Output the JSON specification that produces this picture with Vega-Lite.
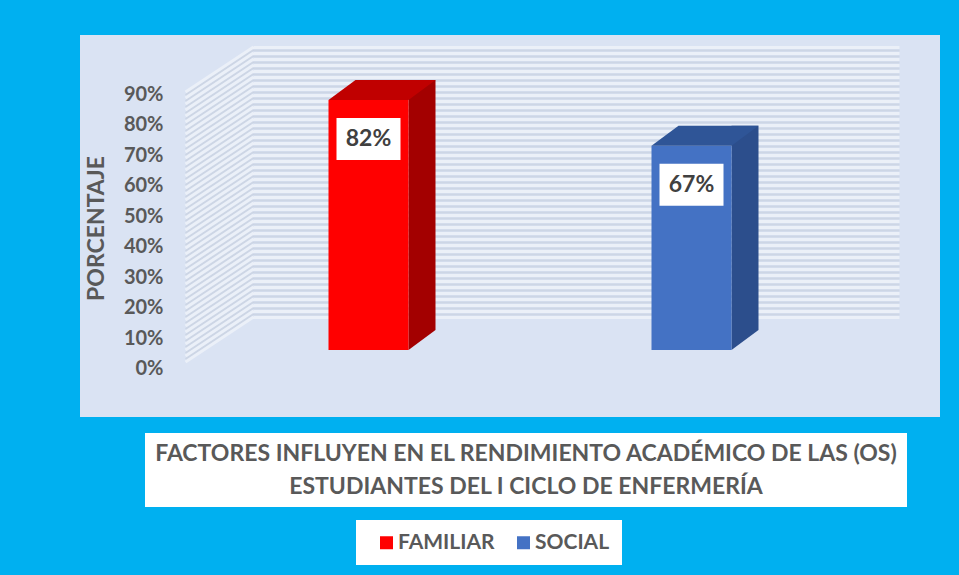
{
  "$schema": "https://vega.github.io/schema/vega-lite/v6.json",
  "background": "#00B0F0",
  "padding": {"left": 80, "top": 35, "right": 19, "bottom": 11},
  "bounds": "flush",
  "spacing": 16,
  "config": {"font": "Lato", "view": {"stroke": null}},
  "datasets": {
    "bars": [
      {"cat": "FAMILIAR", "pct": 0.82},
      {"cat": "SOCIAL", "pct": 0.67}
    ]
  },
  "vconcat": [
    {
      "width": 860,
      "height": 382,
      "view": {"fill": "#DAE3F3", "stroke": null},
      "resolve": {"axis": {"y": "independent"}},
      "layer": [
        {
          "data": {"values": [{"t": 1}]},
          "mark": {"type": "point", "shape": "M-229 9L-161 -36M-229 3L-161 -42M-229 -3L-161 -48M-229 -9L-161 -54M-229 -15L-161 -60M-229 -21L-161 -66M-229 -27L-161 -72M-229 -33L-161 -78M-229 -39L-161 -84M-229 -45L-161 -90M-229 -51L-161 -96M-229 -57L-161 -102M-229 -63L-161 -108M-229 -69L-161 -114M-229 -75L-161 -120M-229 -81L-161 -126M-229 -87L-161 -132M-229 -93L-161 -138M-229 -99L-161 -144M-229 -105L-161 -150M-229 -111L-161 -156M-229 -117L-161 -162M-229 -123L-161 -168M-229 -129L-161 -174M-229 -135L-161 -180M-229 -141L-161 -186M-229 -147L-161 -192M-229 -153L-161 -198M-229 -159L-161 -204M-229 -165L-161 -210M-229 -171L-161 -216M-229 -177L-161 -222M-229 -183L-161 -228M-229 -189L-161 -234M-229 -195L-161 -240M-229 -201L-161 -246M-229 -207L-161 -252M-229 -213L-161 -258M-229 -219L-161 -264M-229 -225L-161 -270M-229 -231L-161 -276M-229 -237L-161 -282M-229 -243L-161 -288M-229 -249L-161 -294M-229 -255L-161 -300", "size": 4, "filled": false, "stroke": "#B4BCCB", "strokeWidth": 2, "strokeOpacity": 0.35, "opacity": 1},
          "encoding": {
            "x": {"datum": "FAMILIAR", "type": "nominal", "scale": {"range": [173, 819], "paddingInner": 0, "paddingOuter": 0}, "axis": null},
            "y": {"datum": 0, "type": "quantitative", "scale": {"domain": [-0.21967, 1.03279], "nice": false, "zero": false},
              "axis": {"orient": "left", "grid": true, "labels": false, "ticks": false, "domain": false, "title": null,
                "values": [0.1180,0.1377,0.1574,0.1770,0.1967,0.2164,0.2361,0.2557,0.2754,0.2951,0.3148,0.3344,0.3541,0.3738,0.3934,0.4131,0.4328,0.4525,0.4721,0.4918,0.5115,0.5311,0.5508,0.5705,0.5902,0.6098,0.6295,0.6492,0.6689,0.6885,0.7082,0.7279,0.7475,0.7672,0.7869,0.8066,0.8262,0.8459,0.8656,0.8852,0.9049,0.9246,0.9443,0.9639,0.9836],
                "gridColor": "#B4BCCB", "gridOpacity": 0.35, "gridWidth": 2}}
          }
        },
        {
          "data": {"values": [{"t": 1}]},
          "mark": {"type": "point", "shape": "M-229 12L-161 -33M-229 6L-161 -39M-229 0L-161 -45M-229 -6L-161 -51M-229 -12L-161 -57M-229 -18L-161 -63M-229 -24L-161 -69M-229 -30L-161 -75M-229 -36L-161 -81M-229 -42L-161 -87M-229 -48L-161 -93M-229 -54L-161 -99M-229 -60L-161 -105M-229 -66L-161 -111M-229 -72L-161 -117M-229 -78L-161 -123M-229 -84L-161 -129M-229 -90L-161 -135M-229 -96L-161 -141M-229 -102L-161 -147M-229 -108L-161 -153M-229 -114L-161 -159M-229 -120L-161 -165M-229 -126L-161 -171M-229 -132L-161 -177M-229 -138L-161 -183M-229 -144L-161 -189M-229 -150L-161 -195M-229 -156L-161 -201M-229 -162L-161 -207M-229 -168L-161 -213M-229 -174L-161 -219M-229 -180L-161 -225M-229 -186L-161 -231M-229 -192L-161 -237M-229 -198L-161 -243M-229 -204L-161 -249M-229 -210L-161 -255M-229 -216L-161 -261M-229 -222L-161 -267M-229 -228L-161 -273M-229 -234L-161 -279M-229 -240L-161 -285M-229 -246L-161 -291M-229 -252L-161 -297M-229 -258L-161 -303", "size": 4, "filled": false, "stroke": "white", "strokeWidth": 3, "strokeOpacity": 0.45, "opacity": 1},
          "encoding": {
            "x": {"datum": "FAMILIAR", "type": "nominal", "axis": null},
            "y": {"datum": 0, "type": "quantitative",
              "axis": {"orient": "left", "grid": true, "labels": false, "ticks": false, "domain": false, "title": null,
                "values": [0.1082,0.1279,0.1475,0.1672,0.1869,0.2066,0.2262,0.2459,0.2656,0.2852,0.3049,0.3246,0.3443,0.3639,0.3836,0.4033,0.4230,0.4426,0.4623,0.4820,0.5016,0.5213,0.5410,0.5607,0.5803,0.6000,0.6197,0.6393,0.6590,0.6787,0.6984,0.7180,0.7377,0.7574,0.7770,0.7967,0.8164,0.8361,0.8557,0.8754,0.8951,0.9148,0.9344,0.9541,0.9738,0.9934],
                "gridColor": "white", "gridOpacity": 0.45, "gridWidth": 3}}
          }
        },
        {
          "data": {"name": "bars"},
          "mark": {"type": "bar", "width": 27, "xOffset": 7.5, "yOffset": -20, "y2Offset": -20},
          "encoding": {
            "x": {"field": "cat", "type": "nominal", "axis": null},
            "y": {"field": "pct", "type": "quantitative", "axis": null},
            "y2": {"datum": 0},
            "color": {"condition": {"test": "datum.cat === 'FAMILIAR'", "value": "#A30000"}, "value": "#2C4E8C"}
          }
        },
        {
          "data": {"name": "bars"},
          "mark": {"type": "point", "shape": "M-6 -20L21 -20L-6 0Z", "size": 4, "filled": true, "opacity": 1, "strokeWidth": 0},
          "encoding": {
            "x": {"field": "cat", "type": "nominal", "axis": null},
            "y": {"datum": 0, "type": "quantitative", "axis": null},
            "color": {"condition": {"test": "datum.cat === 'FAMILIAR'", "value": "#A30000"}, "value": "#2C4E8C"}
          }
        },
        {
          "data": {"name": "bars"},
          "mark": {"type": "bar", "width": 80, "xOffset": -46},
          "encoding": {
            "x": {"field": "cat", "type": "nominal",
              "axis": {"orient": "bottom", "offset": -32, "labelPadding": 2, "labelOffset": -66, "ticks": false, "domain": false, "labelAngle": 0, "labelFontSize": 20, "labelFontWeight": "bold", "labelColor": "#595959", "title": null}},
            "y": {"field": "pct", "type": "quantitative",
              "axis": {"orient": "left", "offset": -83, "values": [0,0.1,0.2,0.3,0.4,0.5,0.6,0.7,0.8,0.9], "format": ".0%", "labelOffset": 18.5, "labelPadding": 0, "ticks": false, "tickSize": 0, "domain": false, "grid": false, "labelFontSize": 20, "labelFontWeight": "bold", "labelColor": "#595959",
                "title": "PORCENTAJE", "titleFontSize": 23, "titleFontWeight": "bold", "titleColor": "#595959", "titleX": -66.5, "titleY": 193, "titleAngle": -90, "titleBaseline": "middle", "titleAlign": "center"}},
            "y2": {"datum": 0},
            "color": {"field": "cat", "type": "nominal",
              "scale": {"domain": ["FAMILIAR", "SOCIAL"], "range": ["#FF0000", "#4472C4"]},
              "legend": {"orient": "none", "legendX": 276, "legendY": 485, "direction": "horizontal", "title": null, "fillColor": "white", "padding": 12, "symbolType": "square", "symbolSize": 169, "symbolStrokeWidth": 0, "labelFontSize": 21, "labelFontWeight": "bold", "labelColor": "#595959", "labelOffset": 1, "columnPadding": 10, "symbolOffset": 8}}
          }
        },
        {
          "data": {"name": "bars"},
          "mark": {"type": "point", "shape": "M-86 0L-59 -20L21 -20L-6 0Z", "size": 4, "filled": true, "opacity": 1, "strokeWidth": 0},
          "encoding": {
            "x": {"field": "cat", "type": "nominal", "axis": null},
            "y": {"field": "pct", "type": "quantitative", "axis": null},
            "color": {"condition": {"test": "datum.cat === 'FAMILIAR'", "value": "#C00000"}, "value": "#2F5597"}
          }
        },
        {
          "data": {"name": "bars"},
          "mark": {"type": "point", "shape": "M-78 18L-14 18L-14 60L-78 60Z", "size": 4, "filled": true, "opacity": 1, "strokeWidth": 0, "color": "white"},
          "encoding": {
            "x": {"field": "cat", "type": "nominal", "axis": null},
            "y": {"field": "pct", "type": "quantitative", "axis": null}
          }
        },
        {
          "data": {"name": "bars"},
          "mark": {"type": "text", "xOffset": -46, "yOffset": 39, "fontSize": 23, "fontWeight": "bold", "color": "#404040", "baseline": "middle", "align": "center"},
          "encoding": {
            "x": {"field": "cat", "type": "nominal", "axis": null},
            "y": {"field": "pct", "type": "quantitative", "axis": null},
            "text": {"field": "pct", "type": "quantitative", "format": ".0%"}
          }
        }
      ]
    },
    {
      "hconcat": [
        {
          "width": 45,
          "height": 74,
          "data": {"values": [{"t": 1}]},
          "mark": {"type": "point", "opacity": 0}
        },
        {
          "width": 762,
          "height": 74,
          "view": {"fill": "white", "stroke": null},
          "data": {"values": [{"t": 1}]},
          "mark": {"type": "text", "text": ["FACTORES INFLUYEN EN EL RENDIMIENTO ACADÉMICO DE LAS (OS)", "ESTUDIANTES DEL I CICLO DE ENFERMERÍA"], "fontSize": 23, "fontWeight": "bold", "color": "#595959", "lineHeight": 33, "baseline": "middle", "align": "center", "dy": -16}
        }
      ],
      "spacing": 20,
      "bounds": "flush"
    }
  ]
}
